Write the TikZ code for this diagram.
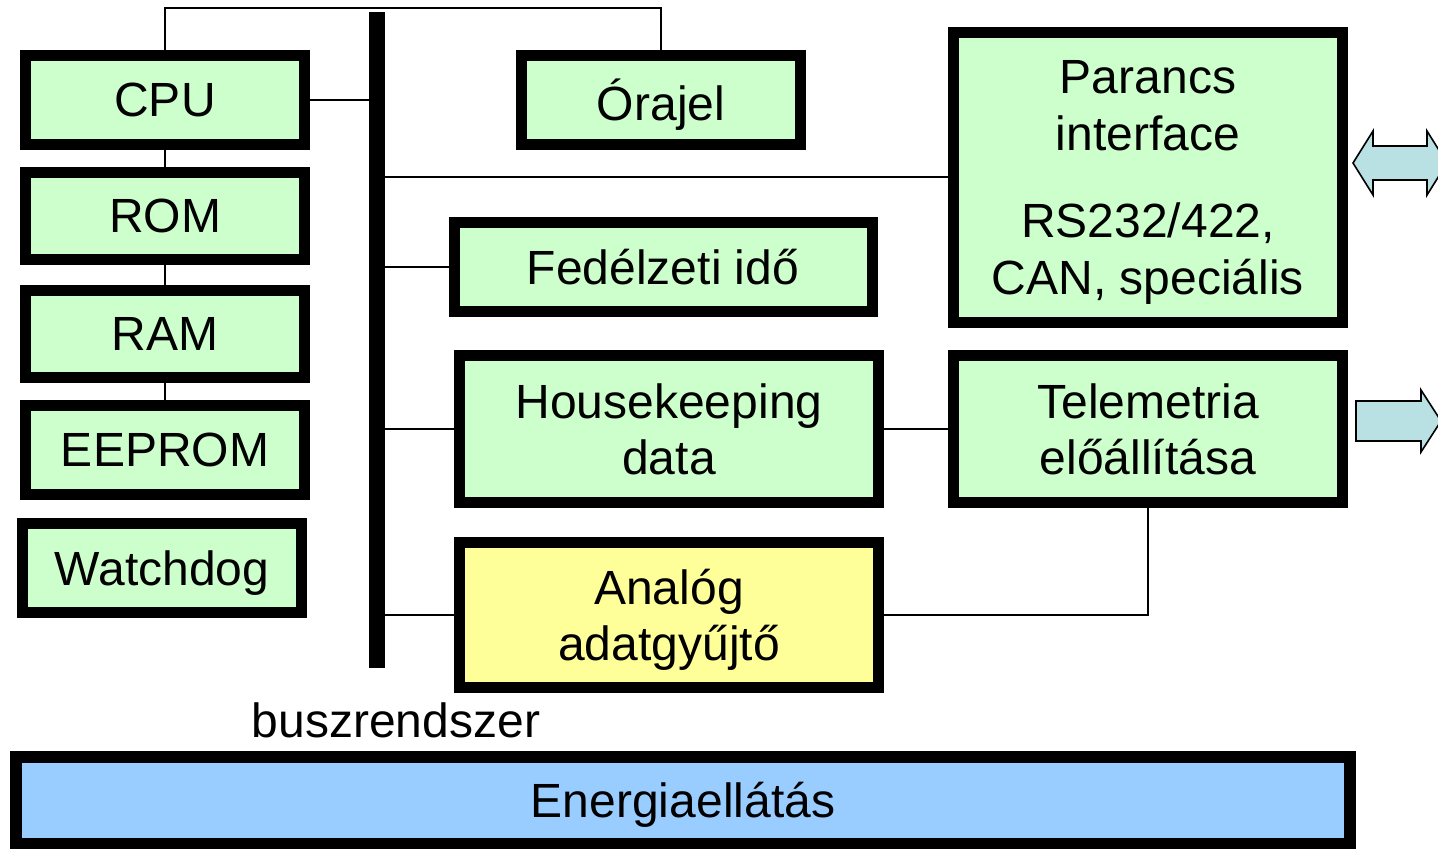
\documentclass[tikz,border=0pt]{standalone}
\usepackage{fontspec}
\setmainfont{Liberation Sans}
\usetikzlibrary{calc}

\definecolor{boxgreen}{RGB}{204,255,204}
\definecolor{boxyellow}{RGB}{255,255,153}
\definecolor{boxblue}{RGB}{153,204,255}
\definecolor{arrowcyan}{RGB}{185,224,226}

\begin{document}
\begin{tikzpicture}[
		x=0.5pt, y=-0.5pt,
		box/.style={draw, line width=5.5pt, fill=boxgreen, inner sep=0pt, align=center, text depth=0pt, font=\fontsize{24}{28}\selectfont, minimum width=139.5pt, minimum height=44.5pt},
		conn/.style={line width=1pt},
		bigarrow/.style={draw, line width=0.8pt, fill=arrowcyan, line join=miter}
		]
		
		\useasboundingbox (0,0) rectangle (1438,848);
		
		% left column
		\node[box] (cpu) at (165,100) {CPU};
		\node[box, minimum height=43.5pt] (rom) at (165,216) {ROM};
		\node[box, minimum height=43.5pt] (ram) at (165,334) {RAM};
		\node[box] (eeprom) at (165,450) {EEPROM};
		\node[box] (watchdog) at (162,568) {Watchdog};
		
		% middle column
		\node[box] (orajel) at (661,100) {Órajel};
		\node[box, minimum width=209pt] (fedido) at (663,267) {Fedélzeti idő};
		\node[box, minimum width=209.5pt, minimum height=73.5pt] (housekeeping) at (669,429) {Housekeeping\\data};
		\node[box, minimum width=209.5pt, minimum height=72.5pt, fill=boxyellow] (analog) at (669,615) {Analóg\\adatgyűjtő};
		
		% right column
		\node[box, minimum width=194.5pt, minimum height=145pt, font=\fontsize{24}{28.5}\selectfont] (parancs) at (1148,177) {Parancs\\interface\\[15pt]RS232/422,\\CAN, speciális};
		\node[box, minimum width=194.5pt, minimum height=73.5pt] (telemetria) at (1148,429) {Telemetria\\előállítása};
		
		\node[box, minimum width=667pt, minimum height=43.5pt, line width=6pt, fill=boxblue] (energia) at (683,800) {Energiaellátás};
		
		% bus
		\coordinate (bustop) at (377,12);
		\coordinate (busbot) at (377,668);
		\coordinate (clkline) at (400,8);
		\draw[line width=8pt] (bustop) -- (busbot);
		\node[font=\fontsize{24}{28}\selectfont, inner sep=0pt] (buslabel) at (396,720) {buszrendszer};
		
		\draw[conn] (cpu.north) |- (clkline) -| (orajel.north);
		\draw[conn] (cpu) -- (rom);
		\draw[conn] (rom) -- (ram);
		\draw[conn] (ram) -- (eeprom);
		\draw[conn] (cpu.east) -- (cpu.east -| bustop);
		\draw[conn] (parancs.west) -- (parancs.west -| bustop);
		\draw[conn] (fedido.west) -- (fedido.west -| bustop);
		\draw[conn] (housekeeping.west) -- (housekeeping.west -| bustop);
		\draw[conn] (analog.west) -- (analog.west -| bustop);
		\draw[conn] (housekeeping) -- (telemetria);
		\draw[conn] (analog.east) -| (telemetria.south);
		
		% outside links
		\draw[bigarrow] (1353,163) -- (1373,131) -- (1373,146) -- (1427,146) -- (1427,131)
			-- (1447,163) -- (1427,195) -- (1427,180) -- (1373,180) -- (1373,195) -- cycle;
		\draw[bigarrow] (1356,401) -- (1421,401) -- (1421,390) -- (1441,421) -- (1421,452)
			-- (1421,441) -- (1356,441) -- cycle;
		
	\end{tikzpicture}
\end{document}
